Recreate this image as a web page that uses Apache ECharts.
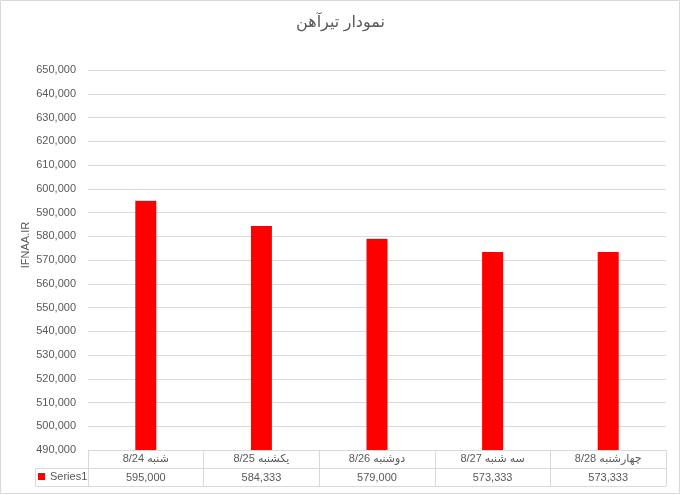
<!DOCTYPE html>
<html>
<head>
<meta charset="utf-8">
<script src="https://cdn.jsdelivr.net/npm/echarts@6/dist/echarts.min.js"></script>
<style>
html,body{margin:0;padding:0;background:#fff;}
#chart{width:681px;height:495px;}
</style>
</head>
<body>
<div id="chart"></div>
<script>
const titleText = 'نمودار تیرآهن';
const axisName = 'IFNAA.IR';
const seriesName = 'Series1';
const categories = ['8/24 شنبه', '8/25 یکشنبه', '8/26 دوشنبه', '8/27 سه شنبه', '8/28 چهارشنبه'];
const values = [595000, 584333, 579000, 573333, 573333];
const yMin = 490000, yMax = 650000, yStep = 10000;

const fmt = v => Number(v).toLocaleString('en-US');
const txt = '#595959';
const line = '#d9d9d9';
const font = "'Liberation Sans', 'DejaVu Sans', sans-serif";

const chart = echarts.init(document.getElementById('chart'));
chart.setOption({
  animation: false,
  textStyle: { fontFamily: font },
  title: {
    text: titleText, left: 'center', top: 10,
    textStyle: { fontSize: 16, fontWeight: 'normal', color: txt, fontFamily: font }
  },
  legend: {
    data: [seriesName], left: 38, top: 471, icon: 'rect', itemWidth: 7, itemHeight: 7, itemGap: 4,
    padding: 0, textStyle: { fontSize: 11, color: txt, fontFamily: font }
  },
  grid: { left: 88, right: 15, top: 70, bottom: 45 },
  xAxis: [
    {
      type: 'category', data: categories, position: 'bottom',
      axisLine: { show: true, lineStyle: { color: line } },
      axisTick: { show: true, interval: 0, length: 36, lineStyle: { color: line } },
      axisLabel: { interval: 0, color: txt, fontSize: 11, margin: 3, fontFamily: font }
    },
    {
      type: 'category', data: categories, position: 'bottom', offset: 18,
      axisLine: { show: true, lineStyle: { color: line } },
      axisTick: { show: false },
      axisLabel: { interval: 0, color: txt, fontSize: 11, margin: 4, fontFamily: font,
        formatter: (v, i) => fmt(values[i]) }
    },
    {
      type: 'category', data: categories, position: 'bottom', offset: 36,
      axisLine: { show: true, lineStyle: { color: line } },
      axisTick: { show: false }, axisLabel: { show: false }
    }
  ],
  yAxis: {
    type: 'value', min: yMin, max: yMax, interval: yStep,
    name: axisName, nameLocation: 'middle', nameRotate: 90, nameGap: 57, nameMoveOverlap: false,
    nameTextStyle: { fontSize: 11, color: txt, fontFamily: font, padding: [0, 0, 0, 30] },
    axisLine: { show: false }, axisTick: { show: false },
    axisLabel: { color: txt, fontSize: 11, margin: 12, formatter: v => fmt(v), fontFamily: font },
    splitLine: { lineStyle: { color: line } }
  },
  series: [{
    name: seriesName, type: 'bar', data: values, barWidth: 21, xAxisIndex: 0,
    itemStyle: { color: '#ff0000' }
  }],
  graphic: [
    { type: 'rect', shape: { x: 0.5, y: 0.5, width: 679, height: 493 }, style: { fill: 'none', stroke: line }, silent: true },
    { type: 'line', shape: { x1: 35.5, y1: 468.5, x2: 88, y2: 468.5 }, style: { stroke: line }, silent: true },
    { type: 'line', shape: { x1: 35.5, y1: 486.5, x2: 88, y2: 486.5 }, style: { stroke: line }, silent: true },
    { type: 'line', shape: { x1: 35.5, y1: 468.5, x2: 35.5, y2: 486.5 }, style: { stroke: line }, silent: true }
  ]
});
</script>
</body>
</html>
